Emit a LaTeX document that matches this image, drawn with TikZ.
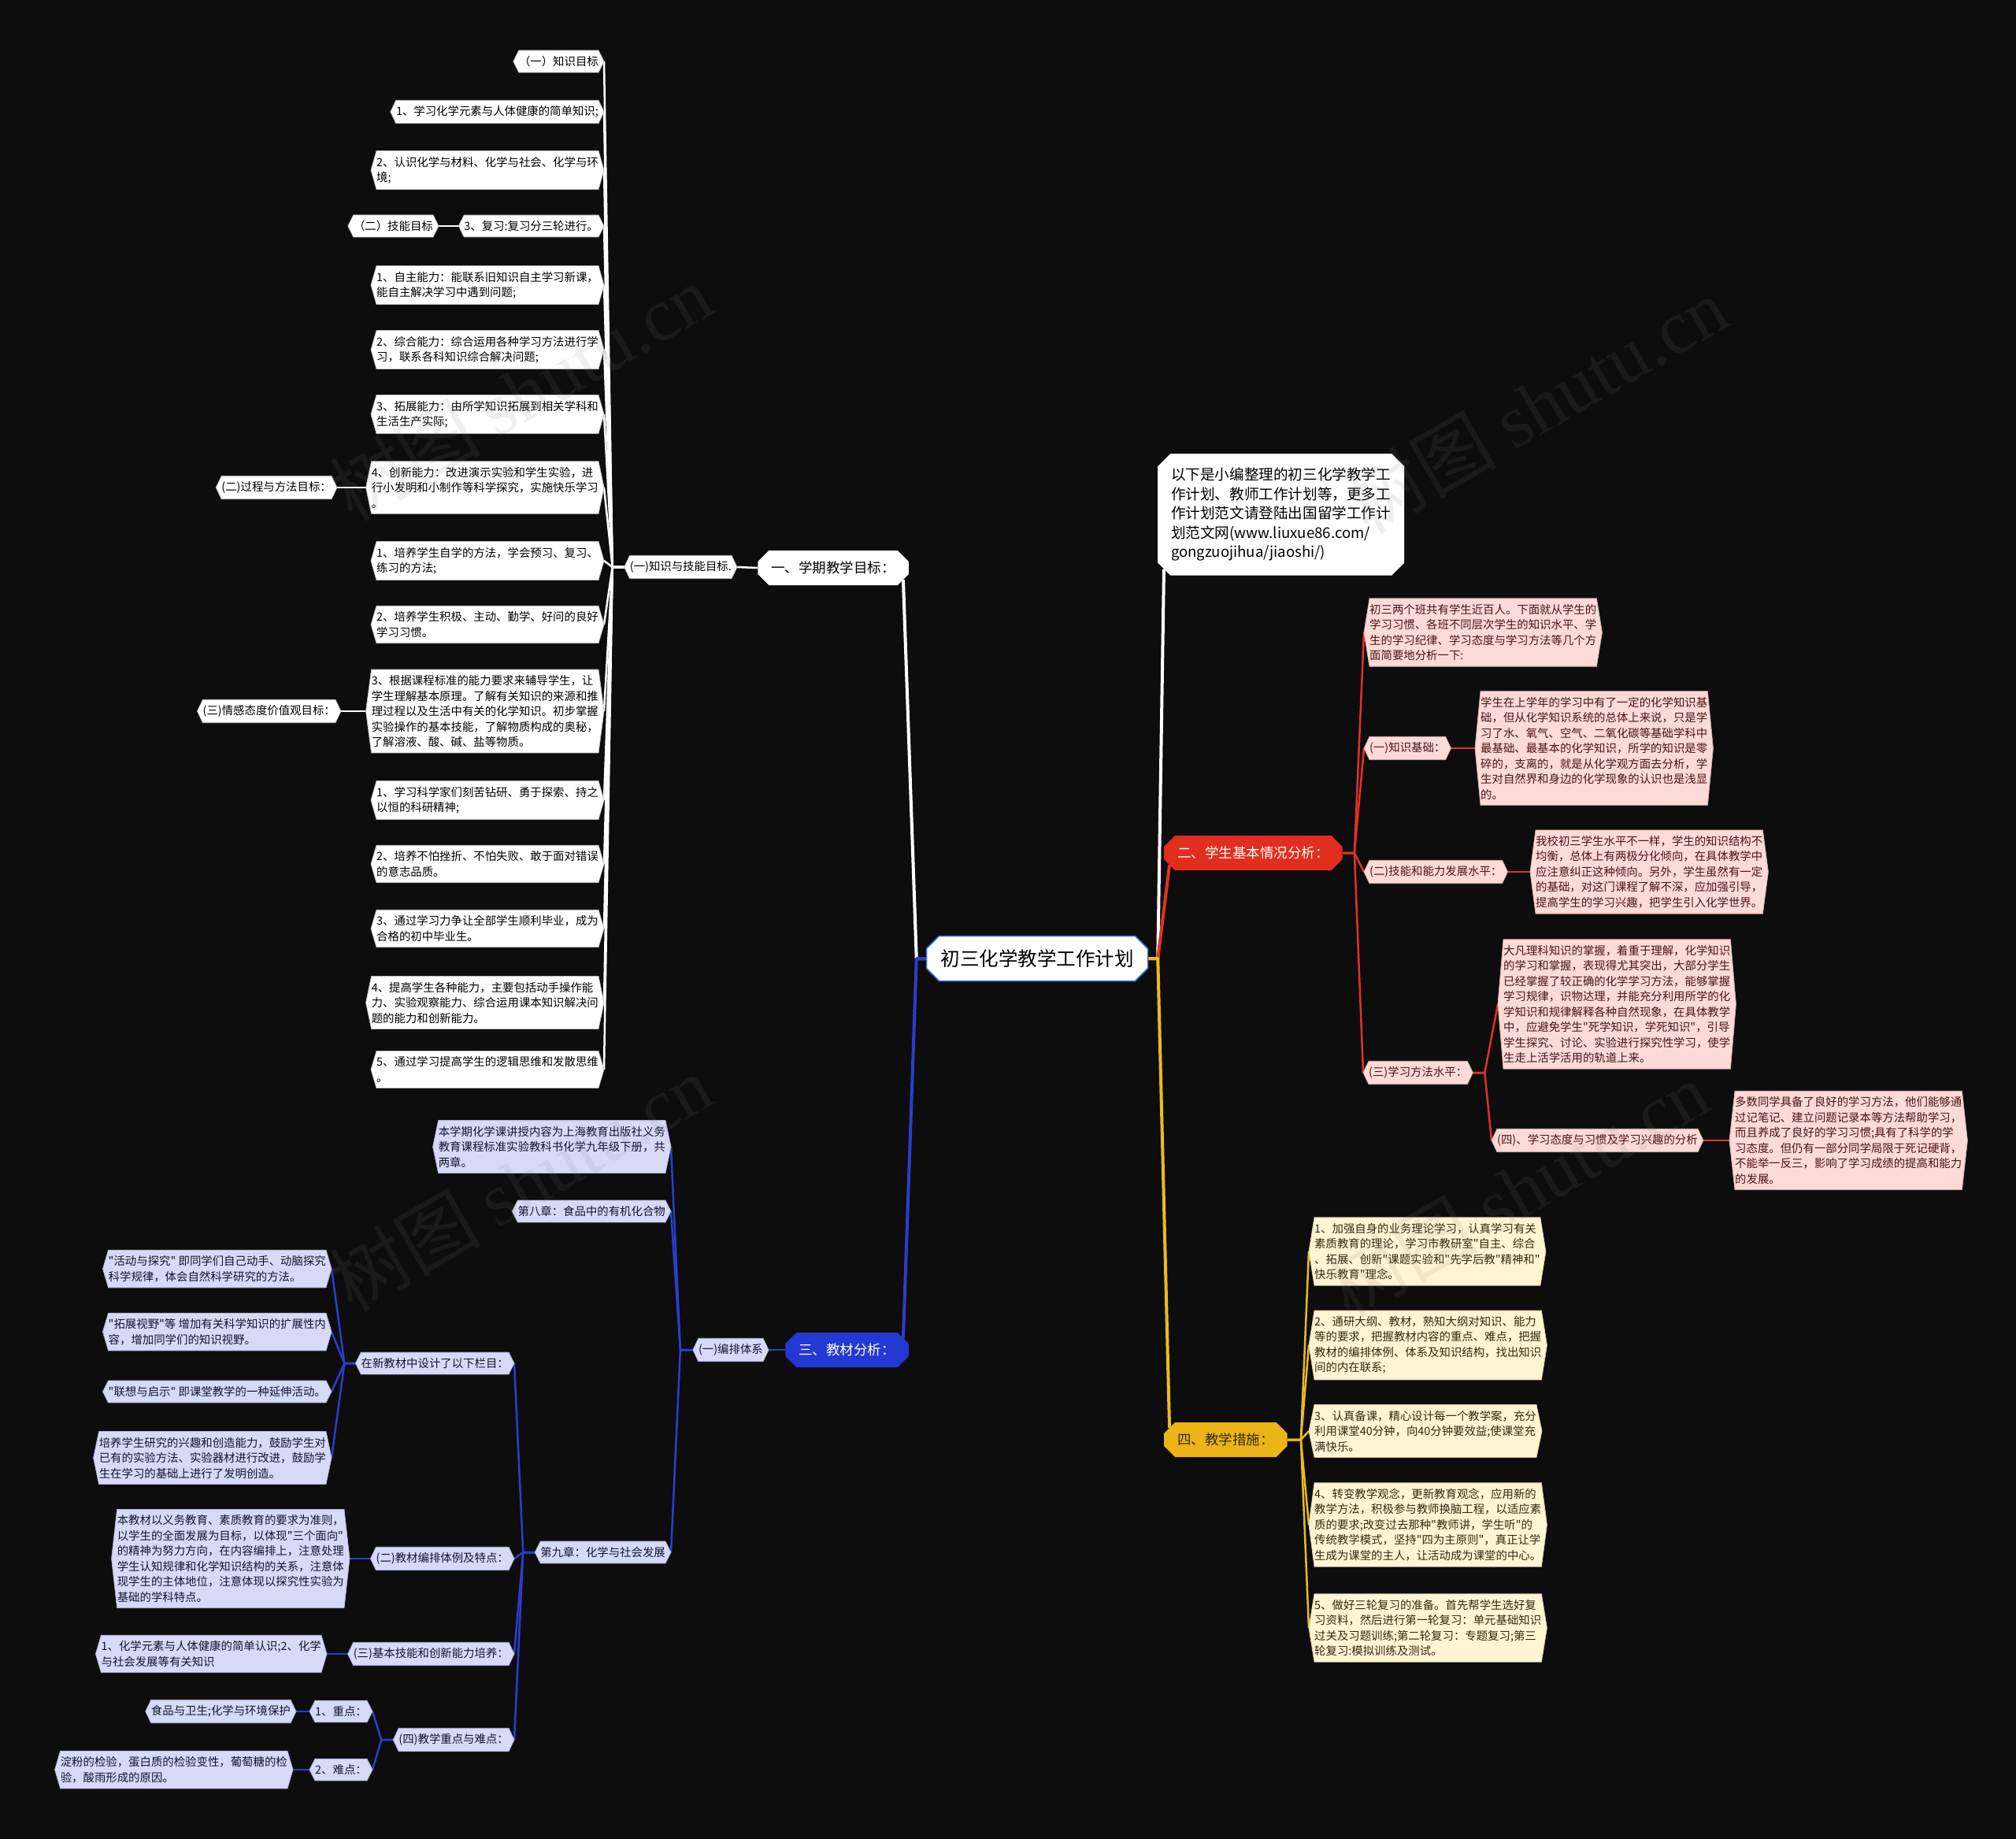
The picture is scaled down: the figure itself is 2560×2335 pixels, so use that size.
\documentclass[tikz,border=0pt]{standalone}
\usepackage{fontspec}
\setmainfont{Noto Sans CJK SC}[Ligatures=TeXOff]
\newfontfamily\wmserif{Liberation Serif}
\usetikzlibrary{shapes.misc}
\pgfdeclarelayer{bgl}\pgfdeclarelayer{edges}\pgfdeclarelayer{boxes}\pgfdeclarelayer{fg}
\pgfsetlayers{bgl,edges,boxes,main,fg}
\definecolor{bgc}{RGB}{13,13,13}
\definecolor{rootb}{RGB}{70,110,220}
\definecolor{rmain}{RGB}{226,46,30}
\definecolor{rfill}{RGB}{251,218,216}
\definecolor{rdraw}{RGB}{215,170,168}
\definecolor{rtext}{RGB}{75,20,18}
\definecolor{rline}{RGB}{222,52,36}
\definecolor{ymain}{RGB}{236,180,22}
\definecolor{yfill}{RGB}{255,245,212}
\definecolor{ydraw}{RGB}{215,200,160}
\definecolor{ytext}{RGB}{50,40,15}
\definecolor{yline}{RGB}{236,186,32}
\definecolor{bmain}{RGB}{36,56,212}
\definecolor{bfill}{RGB}{214,218,246}
\definecolor{bdraw}{RGB}{170,175,215}
\definecolor{btext}{RGB}{20,20,50}
\definecolor{bline}{RGB}{42,62,205}
\newcommand\hx[5]{%
  \node[#1,anchor=#3] (#2) at (#4) {#5};
  \begin{pgfonlayer}{boxes}
  \path[#1bg] ([xshift=7pt]#2.north west) -- ([xshift=-7pt]#2.north east) -- (#2.east)
     -- ([xshift=-7pt]#2.south east) -- ([xshift=7pt]#2.south west) -- (#2.west) -- cycle;
  \end{pgfonlayer}}
\begin{document}
\begin{tikzpicture}[x=1pt,y=-1pt,
  hbase/.style={align=left, inner xsep=7pt, inner ysep=7pt, font=\fontsize{14.4pt}{19.5pt}\selectfont},
  hw/.style={hbase, text=black}, hwbg/.style={fill=white, draw=gray!55, line width=0.8pt},
  hr/.style={hbase, text=rtext}, hrbg/.style={fill=rfill, draw=rdraw, line width=0.8pt},
  hy/.style={hbase, text=ytext}, hybg/.style={fill=yfill, draw=ydraw, line width=0.8pt},
  hb/.style={hbase, text=btext}, hbbg/.style={fill=bfill, draw=bdraw, line width=0.8pt},
  mainb/.style={chamfered rectangle, chamfered rectangle xsep=7pt, chamfered rectangle ysep=7pt,
     inner xsep=10pt, inner ysep=0pt, minimum height=44pt, font=\fontsize{17.5pt}{21pt}\selectfont},
  wlm/.style={draw=white, line width=4pt, line join=round},
  wln/.style={draw=white, line width=2.5pt, line join=round},
  rlm/.style={draw=rline, line width=4pt, line join=round},
  rln/.style={draw=rline, line width=2.5pt, line join=round},
  ylm/.style={draw=yline, line width=4pt, line join=round},
  yln/.style={draw=yline, line width=2.5pt, line join=round},
  blm/.style={draw=bline, line width=4pt, line join=round},
  bln/.style={draw=bline, line width=2.5pt, line join=round},
  wm/.style={text=gray, opacity=0.12, font=\fontsize{96pt}{96pt}\selectfont, rotate=30}]
\begin{pgfonlayer}{bgl}
\fill[bgc] (0,0) rectangle (2560,2335);
\end{pgfonlayer}
\useasboundingbox (0,0) rectangle (2560,2335);

% root and main branches
\node[chamfered rectangle, chamfered rectangle xsep=8pt, chamfered rectangle ysep=8pt, fill=white, draw=rootb,
  line width=1.5pt, inner xsep=10pt, minimum height=57pt, font=\fontsize{24.5pt}{28pt}\selectfont]
  (root) at (1317,1217) {初三化学教学工作计划};
\node[mainb, fill=white, text=black, anchor=east] (m1) at (1154,721) {一、学期教学目标：};
\node[mainb, fill=rmain, text=white, anchor=west] (m2) at (1478,1083) {二、学生基本情况分析：};
\node[mainb, fill=bmain, text=white, anchor=east] (m3) at (1154,1714) {三、教材分析：};
\node[mainb, fill=ymain, text=ytext, anchor=west] (m4) at (1478,1828) {四、教学措施：};
\node[chamfered rectangle, chamfered rectangle xsep=8pt, chamfered rectangle ysep=8pt, fill=white, text=black,
  align=left, inner xsep=9pt, inner ysep=10pt, anchor=north west, font=\fontsize{18.6pt}{24.5pt}\selectfont]
  (note) at (1478,584) {以下是小编整理的初三化学教学工\\作计划、教师工作计划等，更多工\\作计划范文请登陆出国留学工作计\\划范文网(www.liuxue86.com/\\gongzuojihua/jiaoshi/)};

% white branch
\hx{hw}{k1}{east}{936,720}{(一)知识与技能目标.}
\hx{hw}{w1}{east}{767,78}{（一）知识目标}
\hx{hw}{w2}{east}{767,142}{1、学习化学元素与人体健康的简单知识;}
\hx{hw}{w3}{east}{767,216}{2、认识化学与材料、化学与社会、化学与环\\境;}
\hx{hw}{w4}{east}{767,287}{3、复习:复习分三轮进行。}
\hx{hw}{w4c}{east}{557,287}{（二）技能目标}
\hx{hw}{w5}{east}{767,362}{1、自主能力：能联系旧知识自主学习新课，\\能自主解决学习中遇到问题;}
\hx{hw}{w6}{east}{767,444}{2、综合能力：综合运用各种学习方法进行学\\习，联系各科知识综合解决问题;}
\hx{hw}{w7}{east}{767,526}{3、拓展能力：由所学知识拓展到相关学科和\\生活生产实际;}
\hx{hw}{w8}{east}{767,619}{4、创新能力：改进演示实验和学生实验，进\\行小发明和小制作等科学探究，实施快乐学习\\。}
\hx{hw}{w8c}{east}{428,619}{(二)过程与方法目标：}
\hx{hw}{w9}{east}{767,712}{1、培养学生自学的方法，学会预习、复习、\\练习的方法;}
\hx{hw}{w10}{east}{767,793}{2、培养学生积极、主动、勤学、好问的良好\\学习习惯。}
\hx{hw}{w11}{east}{767,903}{3、根据课程标准的能力要求来辅导学生，让\\学生理解基本原理。了解有关知识的来源和推\\理过程以及生活中有关的化学知识。初步掌握\\实验操作的基本技能，了解物质构成的奥秘，\\了解溶液、酸、碱、盐等物质。}
\hx{hw}{w11c}{east}{433,903}{(三)情感态度价值观目标：}
\hx{hw}{w12}{east}{767,1016}{1、学习科学家们刻苦钻研、勇于探索、持之\\以恒的科研精神;}
\hx{hw}{w13}{east}{767,1097}{2、培养不怕挫折、不怕失败、敢于面对错误\\的意志品质。}
\hx{hw}{w14}{east}{767,1179}{3、通过学习力争让全部学生顺利毕业，成为\\合格的初中毕业生。}
\hx{hw}{w15}{east}{767,1273}{4、提高学生各种能力，主要包括动手操作能\\力、实验观察能力、综合运用课本知识解决问\\题的能力和创新能力。}
\hx{hw}{w16}{east}{767,1358}{5、通过学习提高学生的逻辑思维和发散思维\\。}

% red branch
\hx{hr}{r1}{west}{1732,803}{初三两个班共有学生近百人。下面就从学生的\\学习习惯、各班不同层次学生的知识水平、学\\生的学习纪律、学习态度与学习方法等几个方\\面简要地分析一下:}
\hx{hr}{r2}{west}{1732,950}{(一)知识基础：}
\hx{hr}{r2c}{west}{1873,950}{学生在上学年的学习中有了一定的化学知识基\\础，但从化学知识系统的总体上来说，只是学\\习了水、氧气、空气、二氧化碳等基础学科中\\最基础、最基本的化学知识，所学的知识是零\\碎的，支离的，就是从化学观方面去分析，学\\生对自然界和身边的化学现象的认识也是浅显\\的。}
\hx{hr}{r3}{west}{1732,1107}{(二)技能和能力发展水平：}
\hx{hr}{r3c}{west}{1943,1107}{我校初三学生水平不一样，学生的知识结构不\\均衡，总体上有两极分化倾向，在具体教学中\\应注意纠正这种倾向。另外，学生虽然有一定\\的基础，对这门课程了解不深，应加强引导，\\提高学生的学习兴趣，把学生引入化学世界。}
\hx{hr}{r4}{west}{1731,1362}{(三)学习方法水平：}
\hx{hr}{r4a}{west}{1902,1275}{大凡理科知识的掌握，着重于理解，化学知识\\的学习和掌握，表现得尤其突出，大部分学生\\已经掌握了较正确的化学学习方法，能够掌握\\学习规律，识物达理，并能充分利用所学的化\\学知识和规律解释各种自然现象，在具体教学\\中，应避免学生"死学知识，学死知识"，引导\\学生探究、讨论、实验进行探究性学习，使学\\生走上活学活用的轨道上来。}
\hx{hr}{r4b}{west}{1894,1448}{(四)、学习态度与习惯及学习兴趣的分析}
\hx{hr}{r4bc}{west}{2196,1448}{多数同学具备了良好的学习方法，他们能够通\\过记笔记、建立问题记录本等方法帮助学习，\\而且养成了良好的学习习惯;具有了科学的学\\习态度。但仍有一部分同学局限于死记硬背，\\不能举一反三，影响了学习成绩的提高和能力\\的发展。}

% yellow branch
\hx{hy}{y1}{west}{1662,1589}{1、加强自身的业务理论学习，认真学习有关\\素质教育的理论，学习市教研室"自主、综合\\、拓展、创新"课题实验和"先学后教"精神和"\\快乐教育"理念。}
\hx{hy}{y2}{west}{1662,1708}{2、通研大纲、教材，熟知大纲对知识、能力\\等的要求，把握教材内容的重点、难点，把握\\教材的编排体例、体系及知识结构，找出知识\\间的内在联系;}
\hx{hy}{y3}{west}{1662,1817}{3、认真备课，精心设计每一个教学案，充分\\利用课堂40分钟，向40分钟要效益;使课堂充\\满快乐。}
\hx{hy}{y4}{west}{1662,1936}{4、转变教学观念，更新教育观念，应用新的\\教学方法，积极参与教师换脑工程，以适应素\\质的要求;改变过去那种"教师讲，学生听"的\\传统教学模式，坚持"四为主原则"，真正让学\\生成为课堂的主人，让活动成为课堂的中心。}
\hx{hy}{y5}{west}{1662,2067}{5、做好三轮复习的准备。首先帮学生选好复\\习资料，然后进行第一轮复习：单元基础知识\\过关及习题训练;第二轮复习：专题复习;第三\\轮复习:模拟训练及测试。}

% blue branch
\hx{hb}{bb}{east}{976,1714}{(一)编排体系}
\hx{hb}{b1}{east}{852,1456}{本学期化学课讲授内容为上海教育出版社义务\\教育课程标准实验教科书化学九年级下册，共\\两章。}
\hx{hb}{b2}{east}{852,1538}{第八章：食品中的有机化合物}
\hx{hb}{b3}{east}{852,1971}{第九章：化学与社会发展}
\hx{hb}{c1}{east}{653,1731}{在新教材中设计了以下栏目：}
\hx{hb}{d1}{east}{421,1611}{"活动与探究" 即同学们自己动手、动脑探究\\科学规律，体会自然科学研究的方法。}
\hx{hb}{d2}{east}{421,1691}{"拓展视野"等 增加有关科学知识的扩展性内\\容，增加同学们的知识视野。}
\hx{hb}{d3}{east}{421,1767}{"联想与启示" 即课堂教学的一种延伸活动。}
\hx{hb}{d4}{east}{421,1851}{培养学生研究的兴趣和创造能力，鼓励学生对\\已有的实验方法、实验器材进行改进，鼓励学\\生在学习的基础上进行了发明创造。}
\hx{hb}{c2}{east}{653,1979}{(二)教材编排体例及特点：}
\hx{hb}{c2c}{east}{444,1979}{本教材以义务教育、素质教育的要求为准则，\\以学生的全面发展为目标，以体现"三个面向"\\的精神为努力方向，在内容编排上，注意处理\\学生认知规律和化学知识结构的关系，注意体\\现学生的主体地位，注意体现以探究性实验为\\基础的学科特点。}
\hx{hb}{c3}{east}{653,2100}{(三)基本技能和创新能力培养：}
\hx{hb}{c3c}{east}{415,2100}{1、化学元素与人体健康的简单认识;2、化学\\与社会发展等有关知识}
\hx{hb}{c4}{east}{653,2209}{(四)教学重点与难点：}
\hx{hb}{e1}{east}{473,2173}{1、重点：}
\hx{hb}{e1c}{east}{376,2173}{食品与卫生;化学与环境保护}
\hx{hb}{e2}{east}{473,2247}{2、难点：}
\hx{hb}{e2c}{east}{372,2247}{淀粉的检验，蛋白质的检验变性，葡萄糖的检\\验，酸雨形成的原因。}

% connectors
\begin{pgfonlayer}{edges}
\draw[wlm] (root.west) -- ++(-12,0) -- (m1.south east);
\draw[wlm] (root.east) -- ++(12,0) -- (note.south west);
\draw[rlm] (root.east) -- ++(12,0) -- (m2.south west);
\draw[ylm] (root.east) -- ++(12,0) -- (m4.north west);
\draw[blm] (root.west) -- ++(-12,0) -- (m3.north east);
% white
\draw[wln] (m1.west) -- (k1.east);
\foreach \n in {w1,w2,w3,w4,w5,w6,w7,w8,w9,w10,w11,w12,w13,w14,w15,w16}
  {\draw[wln] (k1.west) -- ++(-15,0) -- (\n.east);}
\draw[wln] (w4.west) -- (w4c.east);
\draw[wln] (w8.west) -- (w8c.east);
\draw[wln] (w11.west) -- (w11c.east);
% red
\foreach \n in {r1,r2,r3,r4} {\draw[rln] (m2.east) -- ++(15,0) -- (\n.west);}
\draw[rln] (r2.east) -- (r2c.west);
\draw[rln] (r3.east) -- (r3c.west);
\foreach \n in {r4a,r4b} {\draw[rln] (r4.east) -- ++(15,0) -- (\n.west);}
\draw[rln] (r4b.east) -- (r4bc.west);
% yellow
\foreach \n in {y1,y2,y3,y4,y5} {\draw[yln] (m4.east) -- ++(17,0) -- (\n.west);}
% blue
\draw[bln] (m3.west) -- (bb.east);
\foreach \n in {b1,b2,b3} {\draw[bln] (bb.west) -- ++(-16,0) -- (\n.east);}
\foreach \n in {c1,c2,c3,c4} {\draw[bln] (b3.west) -- ++(-15,0) -- (\n.east);}
\foreach \n in {d1,d2,d3,d4} {\draw[bln] (c1.west) -- ++(-14,0) -- (\n.east);}
\draw[bln] (c2.west) -- (c2c.east);
\draw[bln] (c3.west) -- (c3c.east);
\foreach \n in {e1,e2} {\draw[bln] (c4.west) -- ++(-15,0) -- (\n.east);}
\draw[bln] (e1.west) -- (e1c.east);
\draw[bln] (e2.west) -- (e2c.east);
\end{pgfonlayer}

% watermarks
\begin{pgfonlayer}{fg}
\node[wm] (wm1) at (661,498) {树图 {\wmserif shutu.cn}};
\node[wm] (wm2) at (1951,514) {树图 {\wmserif shutu.cn}};
\node[wm] (wm3) at (661,1502) {树图 {\wmserif shutu.cn}};
\node[wm] (wm4) at (1927,1510) {树图 {\wmserif shutu.cn}};
\end{pgfonlayer}
\end{tikzpicture}
\end{document}
